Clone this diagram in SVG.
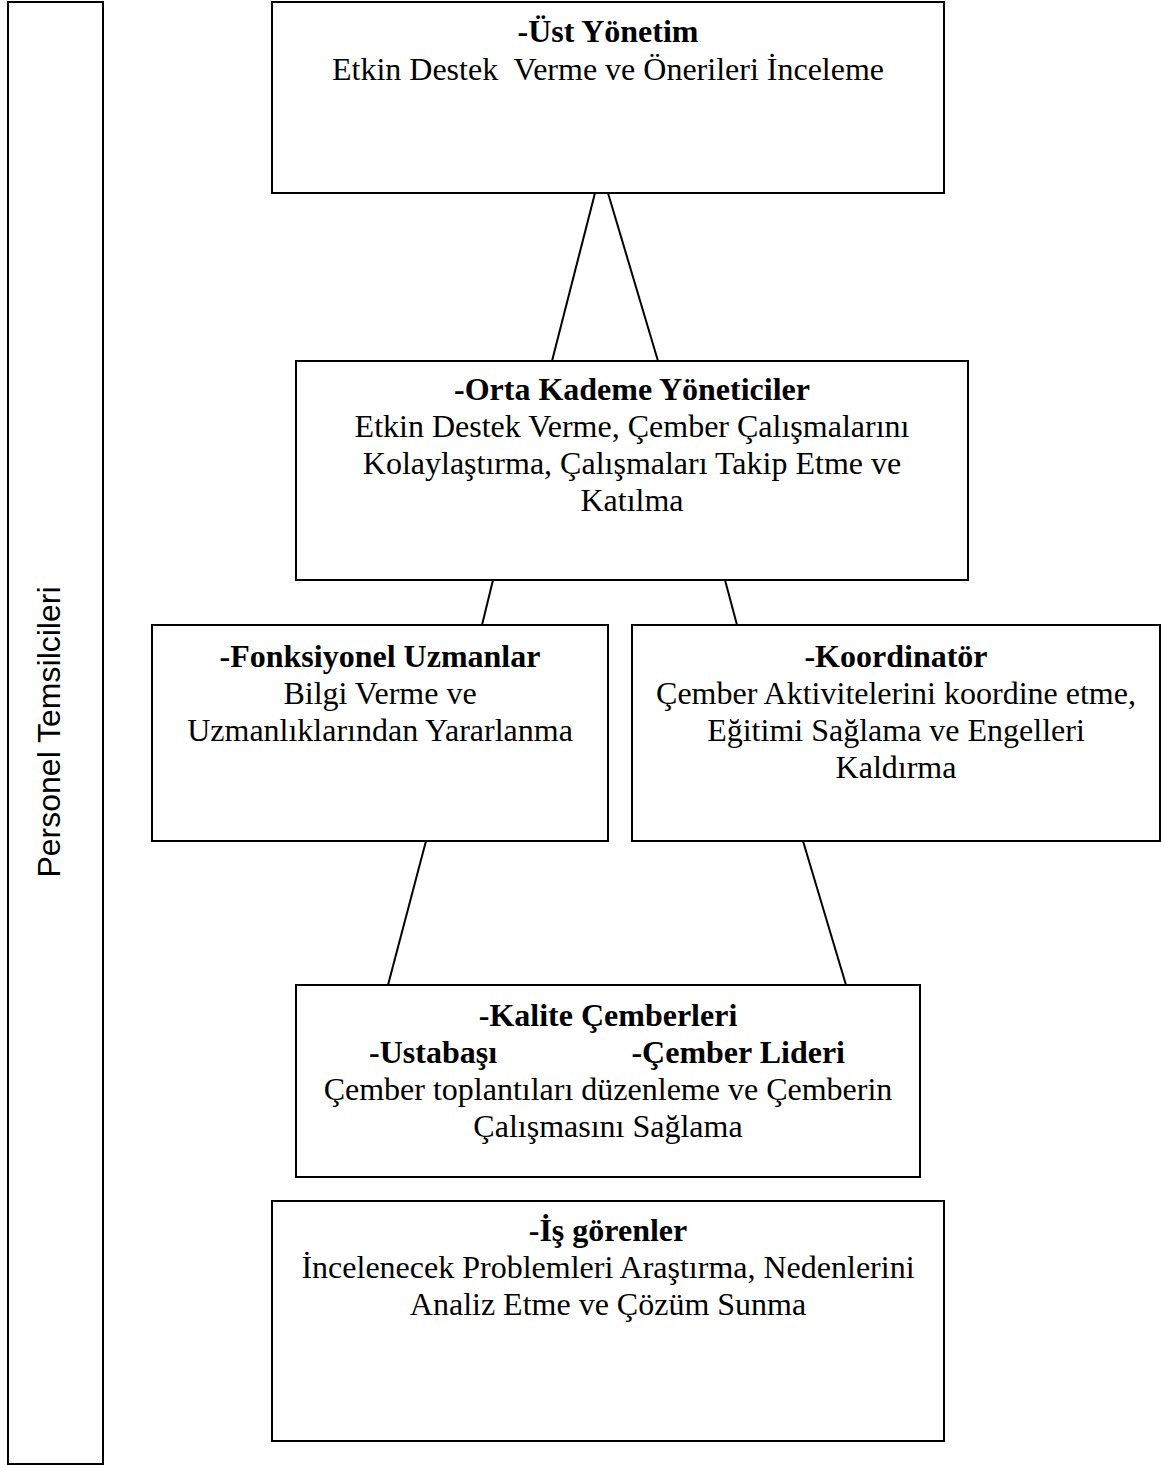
<svg xmlns="http://www.w3.org/2000/svg" width="1164" height="1465" viewBox="0 0 1164 1465">
  <style>
    .box { fill: #ffffff; stroke: #000000; stroke-width: 2; }
    .link { stroke: #000000; stroke-width: 2; fill: none; }
    .t { font-family: "Liberation Serif", "Times New Roman", serif; font-size: 32px; fill: #000000; text-anchor: middle; }
    .b { font-weight: bold; }
    .side { font-family: "Liberation Sans", Arial, sans-serif; font-size: 32px; fill: #000000; text-anchor: middle; }
  </style>
  <rect width="1164" height="1465" fill="#ffffff"/>

  <!-- vertical side band -->
  <g id="personel">
    <rect class="box" x="8" y="2" width="95" height="1462"/>
    <text class="side" transform="translate(60,732) rotate(-90)">Personel Temsilcileri</text>
  </g>

  <!-- connecting lines between levels -->
  <g id="connectors">
    <line class="link" x1="595" y1="193" x2="552" y2="361"/>
    <line class="link" x1="608" y1="193" x2="658" y2="361"/>
    <line class="link" x1="493" y1="580" x2="482" y2="625"/>
    <line class="link" x1="725" y1="580" x2="737" y2="625"/>
    <line class="link" x1="426" y1="841" x2="388" y2="985"/>
    <line class="link" x1="803" y1="841" x2="846" y2="985"/>
  </g>

  <g id="ust-yonetim">
    <rect class="box" x="272" y="2" width="672" height="191"/>
    <text class="t b" x="608" y="42">-Üst Yönetim</text>
    <text class="t" x="608" y="80" xml:space="preserve">Etkin Destek  Verme ve Önerileri İnceleme</text>
  </g>

  <g id="orta-kademe">
    <rect class="box" x="296" y="361" width="672" height="219"/>
    <text class="t b" x="632" y="400">-Orta Kademe Yöneticiler</text>
    <text class="t" x="632" y="437">Etkin Destek Verme, Çember Çalışmalarını</text>
    <text class="t" x="632" y="474">Kolaylaştırma, Çalışmaları Takip Etme ve</text>
    <text class="t" x="632" y="511">Katılma</text>
  </g>

  <g id="fonksiyonel">
    <rect class="box" x="152" y="625" width="456" height="216"/>
    <text class="t b" x="380" y="667">-Fonksiyonel Uzmanlar</text>
    <text class="t" x="380" y="704">Bilgi Verme ve</text>
    <text class="t" x="380" y="741">Uzmanlıklarından Yararlanma</text>
  </g>

  <g id="koordinator">
    <rect class="box" x="632" y="625" width="528" height="216"/>
    <text class="t b" x="896" y="667">-Koordinatör</text>
    <text class="t" x="896" y="704">Çember Aktivitelerini koordine etme,</text>
    <text class="t" x="896" y="741">Eğitimi Sağlama ve Engelleri</text>
    <text class="t" x="896" y="778">Kaldırma</text>
  </g>

  <g id="kalite-cemberleri">
    <rect class="box" x="296" y="985" width="624" height="192"/>
    <text class="t b" x="608" y="1026">-Kalite Çemberleri</text>
    <text class="t b" x="369" y="1063" style="text-anchor:start">-Ustabaşı</text>
    <text class="t b" x="845" y="1063" style="text-anchor:end">-Çember Lideri</text>
    <text class="t" x="608" y="1100">Çember toplantıları düzenleme ve Çemberin</text>
    <text class="t" x="608" y="1137">Çalışmasını Sağlama</text>
  </g>

  <g id="is-gorenler">
    <rect class="box" x="272" y="1201" width="672" height="240"/>
    <text class="t b" x="608" y="1241">-İş görenler</text>
    <text class="t" x="608" y="1278">İncelenecek Problemleri Araştırma, Nedenlerini</text>
    <text class="t" x="608" y="1315">Analiz Etme ve Çözüm Sunma</text>
  </g>
</svg>
